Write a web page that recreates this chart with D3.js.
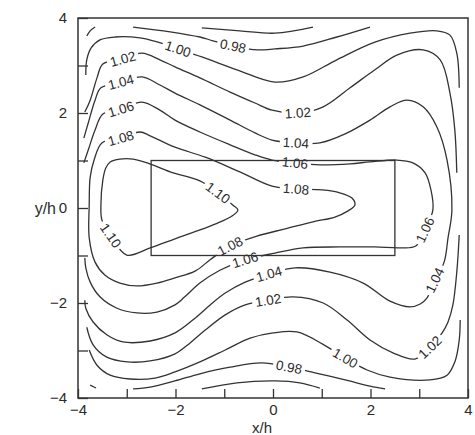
<!DOCTYPE html>
<html>
<head>
<meta charset="utf-8">
<script src="https://cdn.jsdelivr.net/npm/d3@7"></script>
<style>
  html, body { margin: 0; padding: 0; background: #fff; }
  svg { display: block; }
  text { font-family: "Liberation Sans", Arial, sans-serif; fill: #2b2b2b; }
</style>
</head>
<body>
<svg id="chart" width="475" height="435"></svg>
<script>
// Axis ticks
const majorTicks = [-4, -2, 0, 2, 4];
const allTicks = [-4, -3, -2, -1, 0, 1, 2, 3, 4];

// Body outline (x/h, y/h)
const bodyX = [-2.5, 2.5];
const bodyY = [-1, 1];

// Contour lines, points in (x/h, y/h)
const c110 = [[-3.34,0.97],[-3.14,1.03],[-2.87,1.03],[-2.58,0.95],[-2.11,0.76],[-1.50,0.57],[-1.13,0.32],
  [-0.82,0.06],[-0.72,-0.04],[-0.84,-0.17],[-1.19,-0.34],[-1.44,-0.44],[-2.01,-0.65],[-2.52,-0.84],
  [-3.00,-0.99],[-3.33,-0.58],[-3.51,-0.25],[-3.53,0.06],[-3.49,0.59],[-3.43,0.84]];
const c108 = [[-3.12,1.47],[-3.51,1.37],[-3.67,1.01],[-3.75,0.65],[-3.77,0.06],[-3.77,-0.63],[-3.65,-1.14],
  [-3.45,-1.41],[-3.14,-1.58],[-2.79,-1.64],[-2.38,-1.58],[-2.01,-1.47],[-1.60,-1.33],[-1.29,-1.09],
  [-0.88,-0.80],[-0.33,-0.59],[0.25,-0.44],[0.82,-0.29],[1.27,-0.19],[1.54,-0.06],[1.68,0.06],[1.62,0.21],
  [1.37,0.32],[1.01,0.38],[0.47,0.40],[-0.02,0.46],[-0.68,0.76],[-1.39,1.07],[-2.01,1.28],[-2.52,1.52],[-2.73,1.60]];
const c106 = [[-3.88,0.95],[-3.79,1.22],[-3.65,1.64],[-3.49,1.98],[-3.12,2.08],[-2.69,2.23],[-2.32,2.06],
  [-2.01,1.85],[-1.50,1.60],[-0.88,1.33],[-0.37,1.12],[-0.02,1.01],[0.45,0.95],[0.96,0.91],[1.58,0.93],
  [1.99,0.97],[2.54,1.01],[2.87,0.95],[3.12,0.74],[3.24,0.38],[3.28,-0.04],[3.12,-0.46],[2.93,-0.80],
  [2.61,-0.84],[2.09,-0.82],[1.37,-0.82],[0.62,-0.84],[0.04,-0.95],[-0.57,-1.09],[-1.09,-1.31],
  [-1.50,-1.58],[-1.81,-1.87],[-2.01,-2.04],[-2.38,-2.19],[-2.79,-2.21],[-3.20,-2.11],[-3.55,-1.87],
  [-3.75,-1.56],[-3.84,-1.26],[-3.86,-1.05]];
const c104 = [[-3.88,1.47],[-3.79,1.79],[-3.65,2.27],[-3.53,2.53],[-3.12,2.65],[-2.69,2.76],[-2.32,2.59],
  [-2.01,2.42],[-1.50,2.17],[-0.88,1.85],[-0.37,1.58],[-0.02,1.43],[0.47,1.37],[0.96,1.37],[1.48,1.56],
  [1.99,1.85],[2.40,2.13],[2.75,2.27],[3.08,2.13],[3.36,1.71],[3.57,1.01],[3.67,-0.04],[3.59,-0.63],
  [3.51,-1.14],[3.32,-1.52],[3.16,-1.89],[3.02,-2.02],[2.81,-2.08],[2.40,-1.96],[1.85,-1.58],[1.17,-1.35],
  [0.45,-1.26],[-0.08,-1.39],[-0.57,-1.56],[-0.98,-1.79],[-1.29,-2.04],[-1.60,-2.32],[-2.01,-2.63],
  [-2.52,-2.80],[-3.08,-2.82],[-3.41,-2.67],[-3.69,-2.40],[-3.84,-2.11],[-3.86,-1.94]];
const c102Top = [[-3.86,2.02],[-3.75,2.27],[-3.61,2.74],[-3.49,3.03],[-3.08,3.14],[-2.69,3.26],[-2.32,3.12],
  [-2.01,2.97],[-1.50,2.74],[-0.88,2.44],[-0.37,2.21],[-0.02,2.06],[0.51,2.00],[1.03,2.13],[1.58,2.53],
  [2.09,2.91],[2.54,3.22],[3.08,3.33],[3.43,3.12],[3.63,2.42],[3.73,1.64],[3.77,0.74]];
const c102Bottom = [[3.82,-0.57],[3.77,-1.35],[3.69,-2.04],[3.59,-2.40],[3.47,-2.63],[3.22,-2.93],[2.91,-3.18],
  [2.46,-3.05],[1.99,-2.78],[1.52,-2.36],[1.03,-2.00],[0.41,-1.87],[-0.10,-1.94],[-0.57,-2.04],[-0.98,-2.25],
  [-1.39,-2.57],[-1.70,-2.84],[-2.01,-3.07],[-2.52,-3.22],[-2.99,-3.24],[-3.41,-3.14],[-3.69,-2.88],[-3.82,-2.51]];
const c100Top = [[-3.84,2.80],[-3.82,3.12],[-3.73,3.37],[-3.55,3.54],[-3.24,3.60],[-2.73,3.58],[-2.36,3.49],
  [-1.95,3.35],[-1.46,3.18],[-0.74,2.91],[0.04,2.65],[0.62,2.76],[1.31,3.12],[2.09,3.49],[2.81,3.68],
  [3.36,3.73],[3.63,3.64],[3.77,3.26],[3.82,2.53]];
const c100Bottom = [[-3.77,-2.99],[-3.61,-3.31],[-3.34,-3.52],[-2.93,-3.60],[-2.42,-3.58],[-2.01,-3.45],
  [-1.50,-3.24],[-0.98,-2.99],[-0.47,-2.74],[0.00,-2.63],[0.49,-2.61],[1.01,-2.86],[1.48,-3.16],[1.93,-3.41],
  [2.40,-3.56],[3.22,-3.62],[3.57,-3.52],[3.73,-3.24],[3.82,-2.78],[3.84,-2.36]];
const c098Top = [[-2.87,3.81],[-2.11,3.71],[-1.50,3.60],[-1.23,3.52],[-0.82,3.41],[-0.31,3.33],[0.04,3.35],
  [0.62,3.41],[1.31,3.60],[1.99,3.81]];
const c098Bottom = [[-2.87,-3.81],[-2.52,-3.77],[-2.01,-3.64],[-1.50,-3.49],[-0.88,-3.35],[-0.23,-3.26],
  [0.33,-3.35],[0.86,-3.47],[1.48,-3.62],[1.99,-3.75],[2.30,-3.81]];
const c096Top = [[-1.46,3.79],[-0.68,3.73],[0.04,3.68],[0.82,3.81]];
const c096Bottom = [[-1.46,-3.81],[-0.74,-3.68],[0.04,-3.64],[0.55,-3.68],[0.96,-3.79]];
const cornerTopLeft = [[-3.82,3.62],[-3.75,3.73],[-3.65,3.81]];
const cornerBottomLeft = [[-3.75,-3.73],[-3.63,-3.79]];

// level, points, closed?, indices of labelled points
const contours = [
  { level: 1.10, pts: c110, closed: true, labels: [6, 15] },
  { level: 1.08, pts: c108, closed: true, labels: [0, 14, 24] },
  { level: 1.06, pts: c106, closed: false, labels: [4, 12, 21, 28] },
  { level: 1.04, pts: c104, closed: false, labels: [4, 12, 24, 32] },
  { level: 1.02, pts: c102Top, closed: false, labels: [4, 12] },
  { level: 1.02, pts: c102Bottom, closed: false, labels: [5, 12] },
  { level: 1.00, pts: c100Top, closed: false, labels: [7] },
  { level: 1.00, pts: c100Bottom, closed: false, labels: [12] },
  { level: 0.98, pts: c098Top, closed: false, labels: [4] },
  { level: 0.98, pts: c098Bottom, closed: false, labels: [6] },
  { level: 0.96, pts: c096Top, closed: false, labels: [] },
  { level: 0.96, pts: c096Bottom, closed: false, labels: [] },
  { level: 0.96, pts: cornerTopLeft, closed: false, labels: [] },
  { level: 0.98, pts: cornerBottomLeft, closed: false, labels: [] }
];

const svg = d3.select("#chart");
const x = d3.scaleLinear().domain([-4, 4]).range([78, 468]);
const y = d3.scaleLinear().domain([-4, 4]).range([398, 18]);
const ink = "#333";

const openLine = d3.line().x(d => x(d[0])).y(d => y(d[1])).curve(d3.curveCatmullRom.alpha(0.5));
const closedLine = d3.line().x(d => x(d[0])).y(d => y(d[1])).curve(d3.curveCatmullRomClosed.alpha(0.5));

// contour lines
svg.append("g").selectAll("path").data(contours).join("path")
  .attr("d", c => (c.closed ? closedLine : openLine)(c.pts))
  .attr("fill", "none").attr("stroke", ink).attr("stroke-width", 1.3);

// inline labels, oriented along the line, each on a white patch that breaks the line
const labelData = [];
contours.forEach(c => {
  const n = c.pts.length;
  c.labels.forEach(i => {
    const p = c.pts[i], a = c.pts[(i - 1 + n) % n], b = c.pts[(i + 1) % n];
    let ang = Math.atan2(y(b[1]) - y(a[1]), x(b[0]) - x(a[0])) * 180 / Math.PI;
    if (ang > 90) ang -= 180;
    if (ang < -90) ang += 180;
    labelData.push({ text: c.level.toFixed(2), px: x(p[0]), py: y(p[1]), ang });
  });
});
const labelLayer = svg.append("g");
labelData.forEach(d => {
  const g = labelLayer.append("g")
    .attr("transform", `translate(${d.px},${d.py}) rotate(${d.ang})`);
  const patch = g.append("rect").attr("fill", "#fff");
  const t = g.append("text")
    .attr("text-anchor", "middle").attr("dy", "0.35em")
    .attr("font-size", 13.5)
    .text(d.text);
  const bb = t.node().getBBox();
  patch.attr("x", bb.x - 3).attr("y", bb.y + 2)
    .attr("width", bb.width + 6).attr("height", bb.height - 4);
});

// body outline
svg.append("rect")
  .attr("x", x(bodyX[0])).attr("y", y(bodyY[1]))
  .attr("width", x(bodyX[1]) - x(bodyX[0])).attr("height", y(bodyY[0]) - y(bodyY[1]))
  .attr("fill", "none").attr("stroke", ink).attr("stroke-width", 1.3);

// frame
svg.append("rect").attr("x", 78).attr("y", 18).attr("width", 390).attr("height", 380)
  .attr("fill", "none").attr("stroke", ink).attr("stroke-width", 1.5);

const fmt = d => majorTicks.includes(d) ? d3.format("d")(d) : "";

const axL = svg.append("g").attr("transform", "translate(78,0)")
  .call(d3.axisLeft(y).tickValues(allTicks).tickSize(-10).tickPadding(11).tickFormat(fmt));
const axB = svg.append("g").attr("transform", "translate(0,398)")
  .call(d3.axisBottom(x).tickValues(allTicks).tickSize(-9).tickPadding(6).tickFormat(fmt));
[axL, axB].forEach(a => {
  a.select(".domain").remove();
  a.selectAll("line").attr("stroke", ink).attr("stroke-width", 1.3);
  a.selectAll("text").attr("font-size", 15).attr("fill", "#2b2b2b")
    .style("font-family", '"Liberation Sans", Arial, sans-serif');
});

// axis titles
svg.append("text").attr("x", 56).attr("y", y(0)).attr("dy", "0.35em")
  .attr("text-anchor", "end").attr("font-size", 16).text("y/h");
svg.append("text").attr("x", 262).attr("y", 433)
  .attr("text-anchor", "middle").attr("font-size", 15).text("x/h");
</script>
</body>
</html>
